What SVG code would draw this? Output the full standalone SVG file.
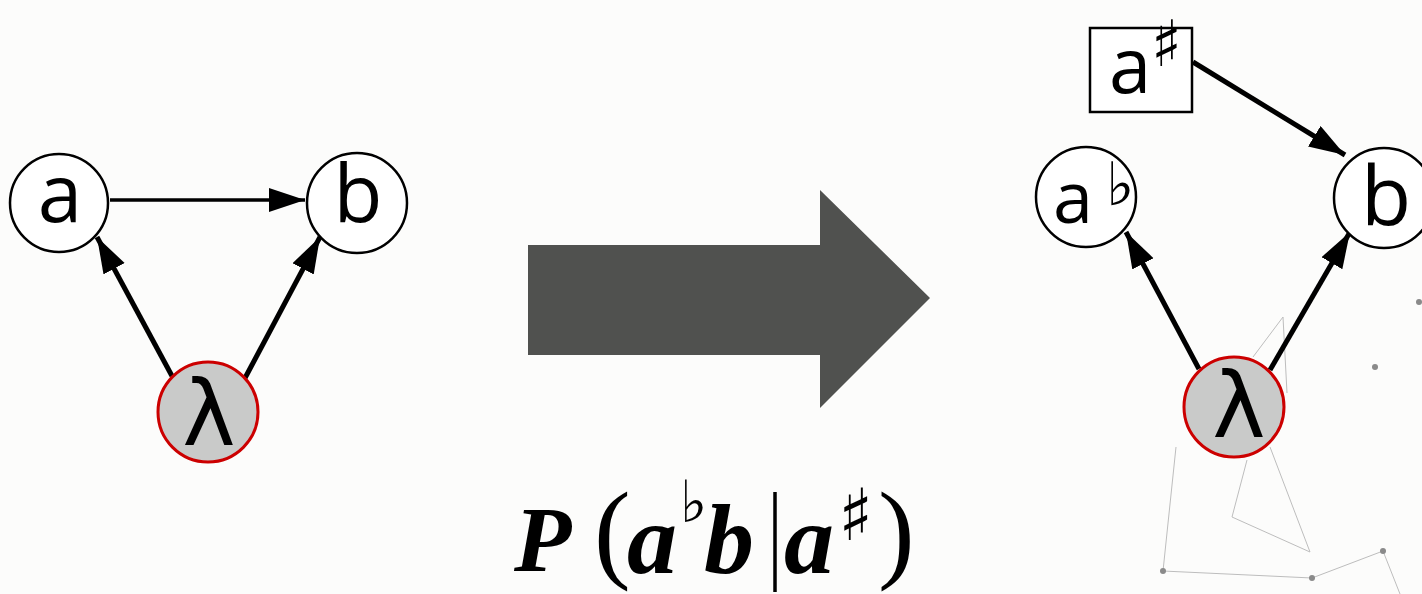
<svg xmlns="http://www.w3.org/2000/svg" width="1422" height="594" viewBox="0 0 1422 594">
<defs>
<style>
.node{fill:#ffffff;stroke:#000;stroke-width:2.5}
.lam{fill:#c9cac9;stroke:#cc0000;stroke-width:3}
.lbl{font-family:"Open Sans","DejaVu Sans",sans-serif;fill:#000;text-anchor:middle}
.lamt{font-family:"DejaVu Sans",sans-serif;fill:#000;text-anchor:middle}
.sym{font-family:"DejaVu Sans","DejaVu Serif",sans-serif;fill:#000}
.edge{stroke:#000;fill:none}
.bg{stroke:#bdbdbd;stroke-width:1;fill:none}
.dot{fill:#8a8a8a}
.math{font-family:"Liberation Serif",serif;font-style:italic;font-weight:bold;fill:#000}
.paren{font-family:"Liberation Serif",serif;fill:#000}
</style>
<marker id="ah" markerUnits="userSpaceOnUse" markerWidth="38" markerHeight="26" refX="36" refY="12" orient="auto">
<path d="M0,0 L36,12 L0,24 z" fill="#000"/>
</marker>
</defs>
<rect width="1422" height="594" fill="#fcfcfb"/>
<g id="background-lines">
<polyline class="bg" points="1176,447 1163,571 1312,578 1383,551 1400,594"/>
<polyline class="bg" points="1253,357 1283,317 1287,393"/>
<polyline class="bg" points="1270,447 1310,552 1232,517 1247,460"/>
<circle class="dot" cx="1419" cy="302" r="3"/>
<circle class="dot" cx="1375" cy="367" r="3"/>
<circle class="dot" cx="1163" cy="571" r="3"/>
<circle class="dot" cx="1312" cy="578" r="3"/>
<circle class="dot" cx="1383" cy="551" r="3"/>
</g>
<g id="connectors">
<line class="edge" x1="110" y1="200" x2="305" y2="200" stroke-width="3.5" marker-end="url(#ah)"/>
<line class="edge" x1="172" y1="376" x2="97" y2="237" stroke-width="5" marker-end="url(#ah)"/>
<line class="edge" x1="245" y1="378" x2="320" y2="237" stroke-width="5" marker-end="url(#ah)"/>
<line class="edge" x1="1193" y1="62" x2="1345" y2="155" stroke-width="5" marker-end="url(#ah)"/>
<line class="edge" x1="1199" y1="369" x2="1126" y2="232" stroke-width="5" marker-end="url(#ah)"/>
<line class="edge" x1="1270" y1="370" x2="1350" y2="232" stroke-width="5" marker-end="url(#ah)"/>
</g>
<g id="node-a">
<circle class="node" cx="59" cy="203" r="49"/>
<text class="lbl" x="60" y="222" font-size="80">a</text>
</g>
<g id="node-b">
<circle class="node" cx="357" cy="203" r="50"/>
<text class="lbl" x="358" y="222" font-size="80">b</text>
</g>
<g id="node-lambda">
<circle class="lam" cx="208" cy="412" r="50"/>
<text class="lamt" x="209" y="445" font-size="90">λ</text>
</g>
<g id="big-arrow">
<polygon points="528,245 820,245 820,190 930,298 820,408 820,355 528,355" fill="#50514f"/>
</g>
<g id="formula">
<text class="math" x="514" y="571" font-size="94">P</text>
<text class="paren" x="594" y="568" font-size="110">(</text>
<text class="math" x="627" y="573" font-size="100">a</text>
<text class="sym" x="680" y="522" font-size="58">♭</text>
<text class="math" x="704" y="573" font-size="100">b</text>
<line x1="775" y1="492" x2="775" y2="592" stroke="#000" stroke-width="3.5"/>
<text class="math" x="784" y="573" font-size="100">a</text>
<text class="sym" x="838" y="540" font-size="72">♯</text>
<text class="paren" x="878" y="568" font-size="110">)</text>
</g>
<g id="node-a-sharp">
<rect x="1090" y="28" width="102" height="84" fill="#fff" stroke="#000" stroke-width="2.5"/>
<text class="lbl" x="1130" y="93" font-size="76">a</text>
<text class="sym" x="1151" y="66" font-size="64">♯</text>
</g>
<g id="node-a-flat">
<circle class="node" cx="1086" cy="197" r="50"/>
<text class="lbl" x="1073" y="223" font-size="72">a</text>
<text class="sym" x="1106" y="205" font-size="60">♭</text>
</g>
<g id="node-b-right">
<circle class="node" cx="1384" cy="198" r="50"/>
<text class="lbl" x="1386" y="225" font-size="82">b</text>
</g>
<g id="node-lambda-right">
<circle class="lam" cx="1234" cy="407" r="50"/>
<text class="lamt" x="1239" y="437" font-size="90">λ</text>
</g>
</svg>
